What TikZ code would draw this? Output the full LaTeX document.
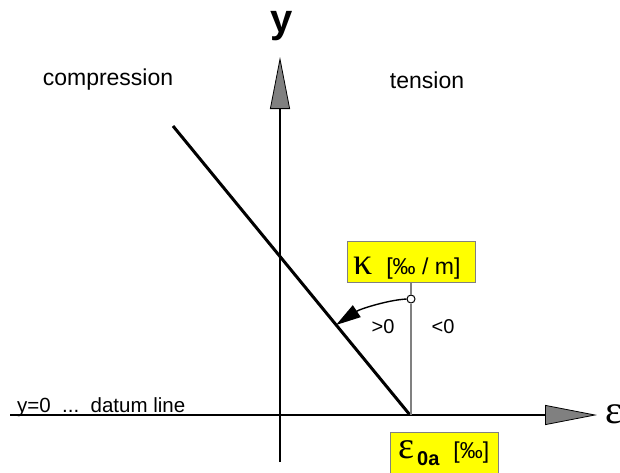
\documentclass[tikz,border=0pt]{standalone}
\usepackage{fontspec}
\setmainfont{Liberation Sans}
\newfontfamily\grk{Liberation Serif}
\usetikzlibrary{arrows.meta}
\definecolor{boxyellow}{HTML}{FFFF00}
\definecolor{axisgray}{HTML}{808080}
\tikzset{
  axis/.style={line width=1.4pt, draw=black,
    -{Triangle[length=52pt,width=20pt,fill=axisgray,line width=0.8pt]}},
  lbl/.style={inner sep=0pt, font=\fontsize{23}{27}\selectfont},
  small/.style={inner sep=0pt, font=\fontsize{20}{24}\selectfont},
  ybox/.style={draw=axisgray, line width=1pt, fill=boxyellow, inner sep=0pt},
  strain/.style={line width=3pt, draw=black},
  guide/.style={line width=1.2pt, draw=axisgray},
}
\begin{document}
\begin{tikzpicture}[x=1pt,y=-1pt]
\useasboundingbox (0,0) rectangle (620,472);
% axes
\coordinate (ybot) at (280,462);
\coordinate (ytop) at (280,57);
\coordinate (xleft) at (10,415);
\coordinate (xright) at (597,415);
\draw[axis] (ybot) -- (ytop);
\draw[axis] (xleft) -- (xright);
\node[inner sep=0pt, font=\bfseries\fontsize{40}{44}\selectfont] (ylab) at (282,26) {y};
\node[inner sep=0pt, anchor=west, font=\grk\fontsize{40}{44}\selectfont] (epsx) at (605,414) {ε};
% region labels
\node[lbl] (comp) at (108,80) {compression};
\node[lbl] (tens) at (427,80) {tension};
\node[inner sep=0pt, anchor=base west, font=\fontsize{20.5}{24}\selectfont] (datum) at (17,412) {y=0\ \ ...\ \ datum line};
% strain line
\coordinate (ltop) at (173,126);
\coordinate (e0) at (410,415);
\draw[strain] (ltop) -- (e0);
% kappa box
\node[ybox, minimum width=128pt, minimum height=41pt] (kbox) at (411,261.5) {};
\node[inner sep=0pt, anchor=base west] (ktext) at (353,274)
  {{\grk\fontsize{38}{40}\selectfont κ}\hspace{14pt}{\fontsize{23}{27}\selectfont [‰ / m]}};
\coordinate (vfoot) at (411,415);
\node[circle, draw=black, fill=white, line width=1pt, inner sep=0pt, minimum size=8pt] (circ) at (411,299) {};
\draw[guide] (kbox.south) -- (circ.north);
\draw[guide] (circ.south) -- (vfoot);
\coordinate (ahit) at (336,325);
\draw[line width=1.4pt, -{Triangle[length=25pt,width=14pt]}] (circ.west) .. controls (388,300) and (360,309) .. (ahit);
\node[small] (gt) at (383,327) {>0};
\node[small] (lt) at (443,327) {<0};
% eps0a box
\node[ybox, minimum width=108pt, minimum height=50pt, anchor=north west] (ebox) at (390,432) {};
\node[inner sep=0pt, anchor=base west] (etext) at (398,458)
  {{\grk\fontsize{38}{40}\selectfont ε}\hspace{3pt}\raisebox{-7pt}{\bfseries\fontsize{20}{24}\selectfont 0a}\hspace{14pt}{\fontsize{23}{27}\selectfont [‰]}};
\end{tikzpicture}
\end{document}
